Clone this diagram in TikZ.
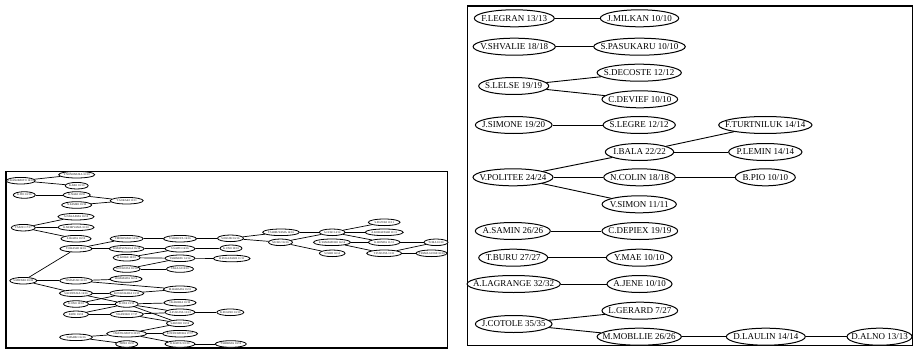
\documentclass[tikz,border=0pt]{standalone}
\usepackage{fontspec}
\setmainfont{Liberation Serif}
\usetikzlibrary{shapes.geometric}

% graph node: name, x, y, ellipse width, label
\newcommand\bignode[5]{\node[bignd, minimum width=#4pt] (#1) at (#2,#3) {#5};}
\newcommand\tinynode[5]{\node[tinynd, minimum width=#4pt] (#1) at (#2,#3) {#5};}

\tikzset{
  gnode/.style={draw, ellipse, fill=white},
  bignd/.style={gnode, line width=1pt, inner xsep=-45pt, inner ysep=-10pt,
    minimum height=17pt, font=\fontsize{9}{10}\selectfont},
  tinynd/.style={gnode, line width=0.8pt, inner xsep=-20pt, inner ysep=-5pt,
    minimum height=6.6pt, font=\fontsize{2.8}{3}\selectfont},
  biglink/.style={line width=0.9pt},
  tinylink/.style={line width=0.7pt},
  panel/.style={line width=1.6pt}
}

\begin{document}
\begin{tikzpicture}[x=1pt, y=-1pt]
\useasboundingbox (0,0) rectangle (917,350);

% ---------- left panel ----------
\draw[panel] (6,171.5) rectangle (447.5,348);

% rank 0
\tinynode{a1}{20.7}{180.7}{29}{K.KASHIMOTO 16/16}
\tinynode{a2}{24.3}{195}{22}{K.ITO 10/10}
\tinynode{a3}{23.3}{227.7}{24}{T.SANO 17/17}
\tinynode{a4}{23.3}{280.7}{27}{S.MIYABE 20/20}
% rank 1
\tinynode{b1}{76.7}{174.7}{36}{Y.NONOMURA 10/10}
\tinynode{b2}{76.7}{185.7}{23}{K.ABE 10/10}
\tinynode{b3}{76.7}{195}{27}{K.NAKI 10/10}
\tinynode{b4}{76.7}{205}{30}{N.SAMEE 10/10}
\tinynode{b5}{76}{216.7}{36}{A.NAKAJIMA 10/10}
\tinynode{b6}{76}{227.3}{36}{K.MORIYAMA 10/10}
\tinynode{b7}{76}{238.7}{30}{S.IKADA 10/10}
\tinynode{b8}{76}{248.7}{32}{T.OHASHI 16/16}
\tinynode{b9}{76}{280.7}{32.7}{T.IMAZUKI 10/10}
\tinynode{b10}{76}{293.3}{33}{S.KONDUKA 16/16}
\tinynode{b11}{76}{304}{25}{K.ONO 10/10}
\tinynode{b12}{76}{314.3}{25}{K.IDE 10/10}
\tinynode{b13}{76}{337.3}{32.7}{T.MAEBO 16/16}
% rank 2
\tinynode{c1}{126.7}{200.7}{33}{T.AOKAKI 11/11}
\tinynode{c2}{126.7}{238.7}{33}{T.MORIWAKI 14/14}
\tinynode{c3}{126.7}{248.7}{35}{K.MATSUNAGA 16/16}
\tinynode{c4}{126.7}{257.7}{27}{K.KOIKE 10/10}
\tinynode{c5}{126.7}{269}{27}{N.FUKUDA 10/10}
\tinynode{c6}{126}{279}{32}{H.HAMADA 14/14}
\tinynode{c7}{126.7}{293.3}{34}{K.FUKUHARA 13/13}
\tinynode{c8}{126.7}{304}{23}{K.OTA 13/13}
\tinynode{c9}{126.7}{314.3}{33}{Y.KANEKO 17/17}
\tinynode{c10}{126.7}{333.7}{40}{I.MATSUMOTO 23/23}
\tinynode{c11}{126.7}{344}{22}{T.IDEI 10/10}
% rank 3
\tinynode{d1}{180}{238.7}{33}{Y.SHIBUYA 16/16}
\tinynode{d2}{180}{248.7}{30}{S.SAITO 16/16}
\tinynode{d3}{180}{258.3}{30}{T.SHIMIZU 14/14}
\tinynode{d4}{180}{269}{27}{TAKAGI 10/10}
\tinynode{d5}{180}{289.3}{33}{M.HARADA 13/13}
\tinynode{d6}{180}{302.7}{32}{I.KAWABA 10/10}
\tinynode{d7}{180}{312.3}{30}{A.FUKUDA 13/13}
\tinynode{d8}{180}{323.3}{27}{SAKURO 10/10}
\tinynode{d9}{180}{333.7}{35}{K.NONOMURA 17/17}
\tinynode{d10}{180}{344}{30}{K.KATOU 10/10}
% rank 4
\tinynode{e1}{230.5}{238.3}{26}{S.IIKUBI 16/16}
\tinynode{e2}{231}{248.3}{22}{K.UNO 10/10}
\tinynode{e3}{231.7}{258.5}{36.7}{H.FUKAZAWA 11/11}
\tinynode{e4}{230.3}{312.3}{27}{K.SUGINO 10/10}
\tinynode{e5}{230.8}{344}{31}{T.SHIBATA 10/10}
% rank 5
\tinynode{f1}{281}{232.3}{36.7}{T.SHIBUYAMA 16/16}
\tinynode{f2}{280.5}{242.3}{24}{M.OKU 16/16}
% rank 6
\tinynode{g1}{332.2}{232.3}{25.7}{A.OCHI 14/14}
\tinynode{g2}{332}{242.3}{37}{K.YAMAMURO 14/14}
\tinynode{g3}{332.2}{253.3}{25.7}{S.ISHII 14/14}
% rank 7
\tinynode{h1}{384.2}{222.3}{31.7}{S.SUZUKI 11/11}
\tinynode{h2}{384.2}{232.3}{38}{A.KOBAYASHI 11/11}
\tinynode{h3}{384.2}{242.3}{31.7}{K.HONDA 11/11}
\tinynode{h4}{384.2}{253.3}{35}{T.FUKUDA 11/11}
% rank 8
\tinynode{i1}{436}{242.3}{24}{T.ORA 10/10}
\tinynode{i2}{431.5}{253.3}{31}{T.YAMAGUCHI 10/10}

\foreach \s/\t in {a1/b1,a1/b2,a2/b3,b3/c1,b4/c1,a3/b5,a3/b6,a3/b7,
    a4/b8,b8/c2,b8/c3,c2/d1,c3/d2,c4/d2,c4/d3,c5/d3,c5/d4,
    d1/e1,d2/e2,d3/e3,e1/f1,e1/f2,f1/g1,f2/g1,f2/g3,
    g1/h1,g1/h2,g1/h3,g2/h3,g2/h4,h3/i1,h4/i1,h4/i2,
    a4/b9,a4/b10,b9/c6,b9/d5,b10/c7,b10/c8,b11/c7,b11/c8,b12/c8,b12/c9,
    c7/d5,c8/d6,c8/d7,c8/d8,c9/d7,c9/d8,d7/e4,
    b13/c10,b13/c11,c10/d8,c10/d9,c10/d10,d10/e5}
  \draw[tinylink] (\s) -- (\t);

% ---------- right panel ----------
\draw[panel] (467.5,6) rectangle (912.5,345.5);

\bignode{r1}{514.3}{18.3}{80}{F.LEGRAN 13/13}
\bignode{r2}{639.5}{18.3}{78.4}{J.MILKAN 10/10}
\bignode{r3}{514.2}{46.7}{82.3}{V.SHVALIE 18/18}
\bignode{r4}{639.5}{46.7}{91.6}{S.PASUKARU 10/10}
\bignode{r5}{513.7}{86}{70}{S.LELSE 19/19}
\bignode{r6}{639.2}{72.7}{84.3}{S.DECOSTE 12/12}
\bignode{r7}{639.8}{99.3}{75.7}{C.DEVIEF 10/10}
\bignode{r8}{513.7}{125}{76.7}{J.SIMONE 19/20}
\bignode{r9}{639.2}{125}{72.3}{S.LEGRE 12/12}
\bignode{r10}{765.3}{125}{93.3}{F.TURTNILUK 14/14}
\bignode{r11}{639.5}{152}{68.4}{I.BALA 22/22}
\bignode{r12}{765.3}{152}{73.3}{P.LEMIN 14/14}
\bignode{r13}{513}{177.3}{80}{V.POLITEE 24/24}
\bignode{r14}{639.5}{177.3}{71.6}{N.COLIN 18/18}
\bignode{r15}{765.3}{177.3}{60}{B.PIO 10/10}
\bignode{r16}{639.2}{204.3}{74.3}{V.SIMON 11/11}
\bignode{r17}{512.8}{231}{75}{A.SAMIN 26/26}
\bignode{r18}{639.8}{231}{75.7}{C.DEPIEX 19/19}
\bignode{r19}{513.2}{257.7}{69}{T.BURU 27/27}
\bignode{r20}{639.2}{257.7}{65.7}{Y.MAE 10/10}
\bignode{r21}{513.7}{284}{93.3}{A.LAGRANGE 32/32}
\bignode{r22}{639.5}{284}{65}{A.JENE 10/10}
\bignode{r23}{639.8}{310.7}{75.7}{L.GERARD 7/27}
\bignode{r24}{513.7}{324}{76.7}{J.COTOLE 35/35}
\bignode{r25}{639.2}{336.7}{84.3}{M.MOBLLIE 26/26}
\bignode{r26}{765.8}{336.7}{79}{D.LAULIN 14/14}
\bignode{r27}{879.5}{336.7}{65}{D.ALNO 13/13}

\foreach \s/\t in {r1/r2,r3/r4,r5/r6,r5/r7,r8/r9,r13/r11,r13/r14,r13/r16,
    r11/r10,r11/r12,r14/r15,r17/r18,r19/r20,r21/r22,r24/r23,r24/r25,
    r25/r26,r26/r27}
  \draw[biglink] (\s) -- (\t);
\end{tikzpicture}
\end{document}
